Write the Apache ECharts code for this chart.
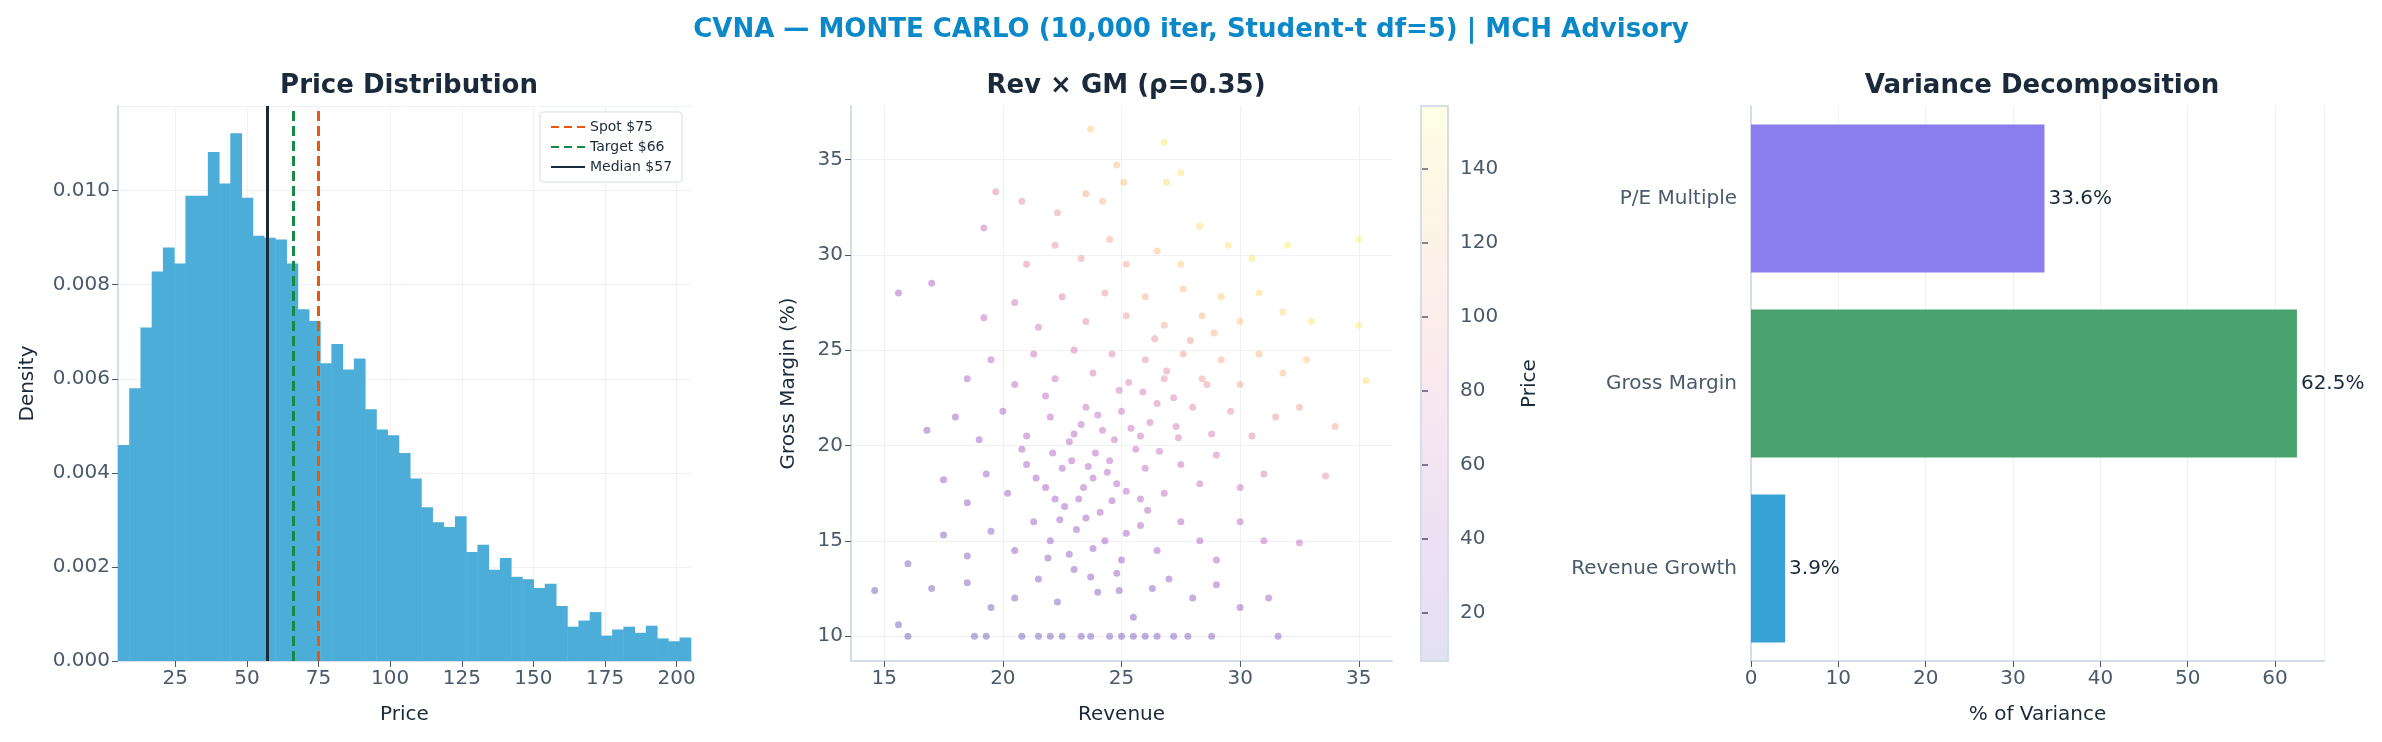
<!DOCTYPE html>
<html><head><meta charset="utf-8">
<script src="https://cdn.jsdelivr.net/npm/echarts@6/dist/echarts.min.js"></script>
<style>html,body{margin:0;padding:0;background:#fff}#main{width:2382px;height:742px}</style>
</head><body><div id="main"></div>
<script>
// histogram: bins start at 5, width 3.92
var binStart = 5, binWidth = 3.92;
var density = [0.00459,0.00580,0.00709,0.00828,0.00879,0.00845,0.00989,0.00989,0.01082,0.01015,
  0.01122,0.00985,0.00904,0.00900,0.00896,0.00845,0.00748,0.00723,0.00633,0.00674,
  0.00620,0.00643,0.00535,0.00492,0.00480,0.00442,0.00388,0.00327,0.00295,0.00285,
  0.00308,0.00232,0.00247,0.00194,0.00219,0.00179,0.00174,0.00155,0.00164,0.00117,
  0.00073,0.00086,0.00104,0.00054,0.00067,0.00073,0.00060,0.00075,0.00048,0.00042,0.00050];
var refLines = [
  {name: 'Spot $75', value: 75, color: '#e8590c', type: 'dashed'},
  {name: 'Target $66', value: 66, color: '#188a45', type: 'dashed'},
  {name: 'Median $57', value: 57, color: '#1b2a3a', type: 'solid'}
];
var histTicks = [25,50,75,100,125,150,175,200];

// scatter sample [revenue, gross margin, price]
var scatterPts = [
  [16,10,12],[18.8,10,14],[19.3,10,15],[20.8,10,16],[21.5,10,14],[22,10,18],[22.5,10,17],[23.3,10,20],[23.7,10,18],
  [24.5,10,22],[25,10,20],[25.5,10,21],[26,10,23],[26.5,10,22],[27.2,10,25],[27.8,10,24],[28.8,10,26],[31.6,10,28],
  [15.6,10.6,15],[17,12.5,18],[18.5,12.8,20],[19.5,11.5,17],[20.5,12,22],[21.5,13,25],[22.3,11.8,20],[23,13.5,28],
  [24,12.3,25],[24.8,13.3,30],[25.5,11,22],[26.3,12.5,30],[27,13,33],[28,12,32],[29,12.7,35],[30,11.5,35],[31.2,12,40],[14.6,12.4,12],
  [16,13.8,18],[17.5,15.3,22],[18.5,14.2,25],[19.5,15.5,30],[20.5,14.5,30],[21.3,16,35],[22,15,33],[22.8,14.3,32],
  [23.5,16.2,40],[24.3,15,38],[25,14,37],[25.8,15.8,45],[26.5,14.5,42],[27.5,16,50],[28.3,15,48],[29,14,45],[30,16,55],[31,15,55],[32.5,14.9,60],
  [17.5,18.2,28],[18.5,17,30],[19.3,18.5,35],[20.2,17.5,35],[21,19,42],[21.8,17.8,40],[22.5,18.8,45],[23.2,17.2,42],
  [23.8,18.3,48],[24.5,19.2,52],[25.2,17.6,50],[26,18.8,58],[26.8,17.5,55],[27.5,19,62],[28.3,18,62],[29,19.5,70],[30,17.8,65],[31,18.5,72],[33.6,18.4,90],
  [16.8,20.8,30],[18,21.5,35],[19,20.3,38],[20,21.8,45],[21,20.5,45],[22,21.5,52],[22.8,20.2,50],[23.5,22,60],[24.2,20.8,58],
  [25,21.8,65],[25.8,20.5,62],[26.5,22.2,75],[27.3,21,72],[28,22,80],[28.8,20.6,75],[29.6,21.8,88],[30.5,20.5,82],[31.5,21.5,95],[32.5,22,100],[34,21,105],
  [18.5,23.5,45],[19.5,24.5,50],[20.5,23.2,52],[21.3,24.8,60],[22.2,23.5,62],[23,25,70],[23.8,23.8,72],[24.6,24.8,80],[25.3,23.3,78],
  [26,24.5,88],[26.8,23.5,90],[27.6,24.8,100],[28.4,23.5,100],[29.2,24.5,110],[30,23.2,105],[30.8,24.8,118],[31.8,23.8,120],[32.8,24.5,130],[35.3,23.4,140],
  [19.2,26.7,55],[20.5,27.5,65],[21.5,26.2,68],[22.5,27.8,78],[23.5,26.5,85],[24.3,28,95],[25.2,26.8,98],[26,27.8,108],[26.8,26.3,105],
  [27.6,28.2,120],[28.4,26.8,118],[29.2,27.8,130],[30,26.5,128],[30.8,28,140],[31.8,27,140],[33,26.5,145],[35,26.3,150],[15.6,28,40],[17,28.5,45],
  [19.2,31.4,65],[21,29.5,80],[22.2,30.5,90],[23.3,29.8,95],[24.5,30.8,108],[25.2,29.5,110],[26.5,30.2,125],[27.5,29.5,130],
  [28.3,31.5,140],[29.5,30.5,145],[30.5,29.8,148],[32,30.5,150],[35,30.8,155],[20.8,32.8,85],[22.3,32.2,95],
  [19.7,33.3,80],[23.5,33.2,110],[25.1,33.8,125],[24.8,34.7,120],[26.9,33.8,140],[27.5,34.3,145],[23.7,36.6,130],[26.8,35.9,150],[24.2,32.8,115],
  [22.6,16.8,38],[23.4,17.8,44],[24.1,16.5,42],[23.9,19.6,50],[22.9,19.2,46],[24.8,18,48],[23.1,15.6,36],[24.6,17.1,45],[25.6,19.8,58],[22.2,17.2,38],
  [25.9,22.8,72],[26.9,23.9,85],[27.2,22.5,78],[26.2,21.2,66],[24.9,22.9,68],[27.9,25.5,100],[28.9,25.9,112],[26.4,25.6,92],[21.8,22.6,55],[20.8,19.8,42],
  [23.6,18.9,47],[24.4,18.6,50],[23.0,20.6,50],[24.0,21.6,58],[25.4,20.9,62],[22.4,16.1,36],[23.8,14.6,34],[25.2,15.4,40],[21.4,18.3,38],[26.6,19.7,62],
  [24.7,20.3,56],[23.3,21.1,52],[22.1,19.6,44],[25.8,17.2,50],[21.9,14.1,30],[24.9,12.4,28],[23.7,13.1,28],[26.1,16.6,48],[27.4,20.4,70],[28.6,23.2,95]
];
var scatterTicks = [15,20,25,30,35];
var gmTicks = [10,15,20,25,30,35];
var priceRange = [7, 157];
var cbarTicks = [20,40,60,80,100,120,140];

// variance decomposition
var drivers = ['Revenue Growth', 'Gross Margin', 'P/E Multiple'];
var varShare = [3.9, 62.5, 33.6];
var driverColors = ['#37a2d6', '#49a26e', '#8a7ded'];

var histData = density.map(function (d, i) {
  return [binStart + i * binWidth, binStart + (i + 1) * binWidth, d];
});

var plasma = ['#0d0887', '#6a00a8', '#b12a90', '#e16462', '#fca636', '#f0f921'];
function alpha(c, a) {
  var n = parseInt(c.slice(1), 16);
  return 'rgba(' + (n >> 16) + ',' + ((n >> 8) & 255) + ',' + (n & 255) + ',' + a + ')';
}

var txt = '#4b5a6b', dark = '#1b2a3a', gridC = '#eef1f5', frame = '#d5dde8';
var font = 'DejaVu Sans';
var tick = {color: txt, fontSize: 20, fontFamily: font};
var axName = {color: dark, fontSize: 20, fontFamily: font};
function frameAxis(o) {
  o.axisLine = {show: true, lineStyle: {color: frame, width: 2}};
  o.axisTick = o.axisTick || {show: true, lineStyle: {color: txt}, length: 6};
  o.splitLine = o.splitLine || {show: true, lineStyle: {color: gridC}};
  return o;
}

var chart = echarts.init(document.getElementById('main'));
chart.setOption({
  backgroundColor: '#fff',
  title: [
    {text: 'CVNA — MONTE CARLO (10,000 iter, Student-t df=5) | MCH Advisory', left: 'center', top: 12,
     textStyle: {color: '#0a88c8', fontSize: 26, fontWeight: 'bold', fontFamily: font}},
    {text: 'Price Distribution', left: 404, top: 68, textAlign: 'center', textStyle: {color: dark, fontSize: 26, fontWeight: 'bold', fontFamily: font}},
    {text: 'Rev × GM (ρ=0.35)', left: 1121, top: 68, textAlign: 'center', textStyle: {color: dark, fontSize: 26, fontWeight: 'bold', fontFamily: font}},
    {text: 'Variance Decomposition', left: 2037, top: 68, textAlign: 'center', textStyle: {color: dark, fontSize: 26, fontWeight: 'bold', fontFamily: font}}
  ],
  legend: {
    data: refLines.map(function (r) { return r.name; }),
    orient: 'vertical', left: 540, top: 112, itemWidth: 34, itemHeight: 14, itemGap: 6,
    itemStyle: {opacity: 0},
    backgroundColor: '#fff', borderColor: '#d5dde8', borderWidth: 1, borderRadius: 3, padding: [8, 10],
    textStyle: {color: dark, fontSize: 14, fontFamily: font}
  },
  visualMap: {
    type: 'continuous', seriesIndex: 5, dimension: 2, min: priceRange[0], max: priceRange[1], show: false,
    inRange: {color: plasma.map(function (c) { return alpha(c, 0.4); })}
  },
  grid: [
    {left: 118, top: 106, width: 573, height: 555},
    {left: 851, top: 106, width: 541, height: 555},
    {left: 1751, top: 106, width: 573, height: 555},
    {left: 1421, top: 106, width: 27, height: 555}
  ],
  xAxis: [
    frameAxis({type: 'value', gridIndex: 0, min: 5, max: 205, name: 'Price', nameLocation: 'middle', nameGap: 44, nameTextStyle: axName,
      axisLabel: Object.assign({customValues: histTicks}, tick), axisTick: {customValues: histTicks, lineStyle: {color: txt}, length: 6},
      splitLine: {show: true, lineStyle: {color: gridC}}}),
    frameAxis({type: 'value', gridIndex: 1, min: 13.6, max: 36.4, name: 'Revenue', nameLocation: 'middle', nameGap: 44, nameTextStyle: axName,
      axisLabel: Object.assign({customValues: scatterTicks}, tick), axisTick: {customValues: scatterTicks, lineStyle: {color: txt}, length: 6}}),
    frameAxis({type: 'value', gridIndex: 2, min: 0, max: 65.6, interval: 10, name: '% of Variance', nameLocation: 'middle', nameGap: 44, nameTextStyle: axName,
      axisLabel: Object.assign({showMaxLabel: false}, tick)}),
    {type: 'value', gridIndex: 3, min: 0, max: 1, show: false}
  ],
  yAxis: [
    frameAxis({type: 'value', gridIndex: 0, min: 0, max: 0.0118, interval: 0.002, name: 'Density', nameLocation: 'middle', nameGap: 80, nameTextStyle: axName,
      axisLabel: Object.assign({showMaxLabel: false, formatter: function (v) { return v.toFixed(3); }}, tick)}),
    frameAxis({type: 'value', gridIndex: 1, min: 8.7, max: 37.8, name: 'Gross Margin (%)', nameLocation: 'middle', nameGap: 52, nameTextStyle: axName,
      axisLabel: Object.assign({customValues: gmTicks}, tick), axisTick: {customValues: gmTicks, lineStyle: {color: txt}, length: 6}}),
    frameAxis({type: 'category', gridIndex: 2, data: drivers, axisLabel: Object.assign({margin: 14}, tick), axisTick: {show: false},
      splitLine: {show: false}}),
    {type: 'value', gridIndex: 3, min: priceRange[0], max: priceRange[1], position: 'right', name: 'Price', nameLocation: 'middle', nameGap: 72,
      nameTextStyle: axName, axisLabel: Object.assign({customValues: cbarTicks, margin: 12}, tick),
      axisLine: {show: false}, axisTick: {customValues: cbarTicks, show: true, inside: false, lineStyle: {color: txt, width: 1.5}, length: 7}, splitLine: {show: false}}
  ],
  series: [
    {type: 'custom', xAxisIndex: 0, yAxisIndex: 0, data: histData, silent: true,
      renderItem: function (params, api) {
        var p0 = api.coord([api.value(0), api.value(2)]);
        var p1 = api.coord([api.value(1), 0]);
        return {type: 'rect', shape: {x: p0[0], y: p0[1], width: p1[0] - p0[0] + 0.5, height: p1[1] - p0[1]},
          style: {fill: '#4badd8'}};
      }, z: 2},
  ].concat(refLines.map(function (r) {
    return {type: 'line', name: r.name, xAxisIndex: 0, yAxisIndex: 0, data: [], symbol: 'none', z: 5,
      lineStyle: {color: r.color, width: 3, type: r.type === 'dashed' ? [8, 5] : 'solid'}, itemStyle: {color: r.color},
      markLine: {symbol: 'none', silent: true, label: {show: false},
        lineStyle: {color: r.color, width: 3, type: r.type === 'dashed' ? [10, 5] : 'solid'},
        data: [{xAxis: r.value}]}};
  })).concat([
    // colorbar
    {type: 'custom', xAxisIndex: 3, yAxisIndex: 3, data: [[0, 1, priceRange[0], priceRange[1]]], silent: true,
      renderItem: function (params, api) {
        var a = api.coord([0, api.value(3)]), b = api.coord([1, api.value(2)]);
        var stops = plasma.map(function (c, i) { return {offset: i / (plasma.length - 1), color: alpha(c, 0.12)}; });
        return {type: 'rect', shape: {x: a[0], y: a[1], width: b[0] - a[0], height: b[1] - a[1]},
          style: {fill: new echarts.graphic.LinearGradient(0, 1, 0, 0, stops), stroke: frame, lineWidth: 2}};
      }},
    {type: 'scatter', xAxisIndex: 1, yAxisIndex: 1, data: scatterPts, symbolSize: 7, z: 3},
    {type: 'bar', xAxisIndex: 2, yAxisIndex: 2, barWidth: '80%',
      data: varShare.map(function (v, i) { return {value: v, itemStyle: {color: driverColors[i]}}; }),
      label: {show: true, position: 'right', distance: 4, color: dark, fontSize: 20, fontFamily: font,
        formatter: function (p) { return p.value.toFixed(1) + '%'; }}}
  ])
});
</script></body></html>
